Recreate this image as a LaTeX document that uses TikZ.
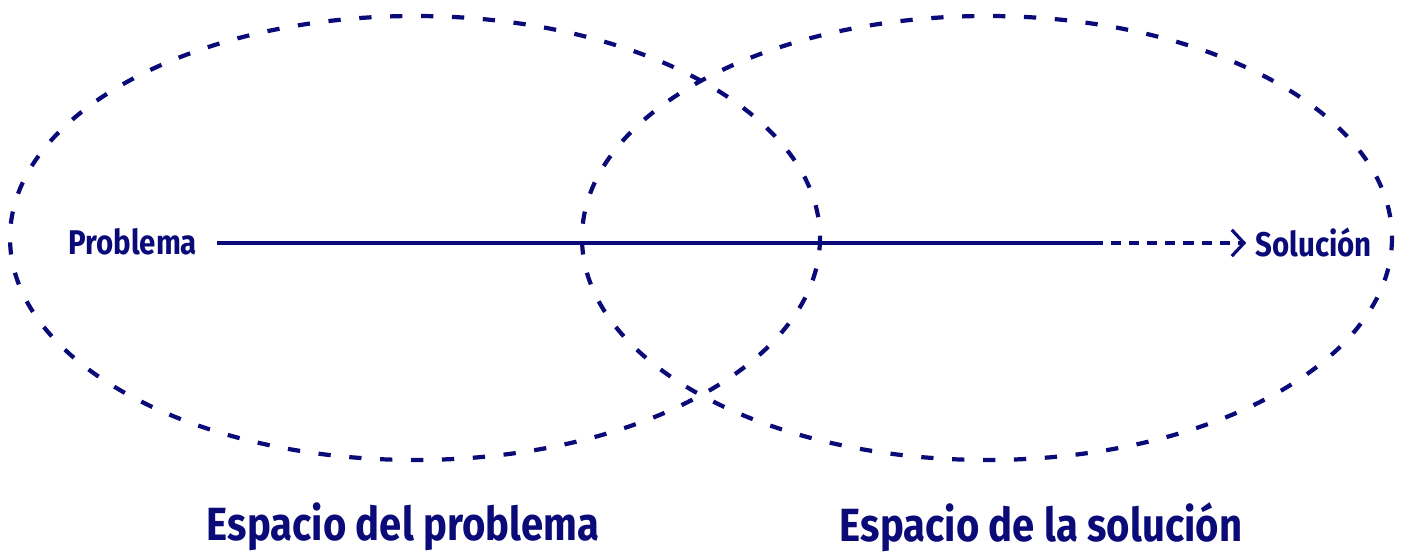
\documentclass[tikz,border=0pt]{standalone}
\usepackage{fontspec}
\setmainfont{Fira Sans}[FakeStretch=0.86]
\usetikzlibrary{positioning,arrows.meta}
\definecolor{navy}{HTML}{0A0A78}

\begin{document}
\begin{tikzpicture}[x=0.02cm,y=-0.02cm,
    space/.style={navy,line width=2.4pt,dash pattern=on 7pt off 10.6pt},
    tag/.style={text=navy,font=\bfseries\fontsize{19.5}{22}\selectfont,inner sep=0pt},
    title/.style={text=navy,font=\bfseries\fontsize{26.5}{30}\selectfont,inner sep=0pt}]
        \useasboundingbox (0,0) rectangle (1404,553);
        \draw[space] (415,238) ellipse [x radius=405, y radius=222];
        \draw[space] (987,238) ellipse [x radius=405, y radius=222];
        \node[tag,anchor=west] (problema) at (68,242){Problema};
        \node[tag,anchor=east] (solucion) at (1372,242){Solución};
        \coordinate (corte) at (1093,243);
        \draw[navy,line width=1.8pt] ([xshift=11.4pt]problema.east|-corte)--(corte);
        \draw[navy,line width=1.8pt,dash pattern=on 5.7pt off 4.6pt,-{Straight Barb[length=7pt,width=15pt,line width=1.8pt]}] (corte)--([xshift=-5pt]solucion.west|-corte);
        \node[title] (espacioP) at (403,527){Espacio del problema};
        \node[title] (espacioS) at (1041,527){Espacio de la solución};
      \end{tikzpicture}
\end{document}
